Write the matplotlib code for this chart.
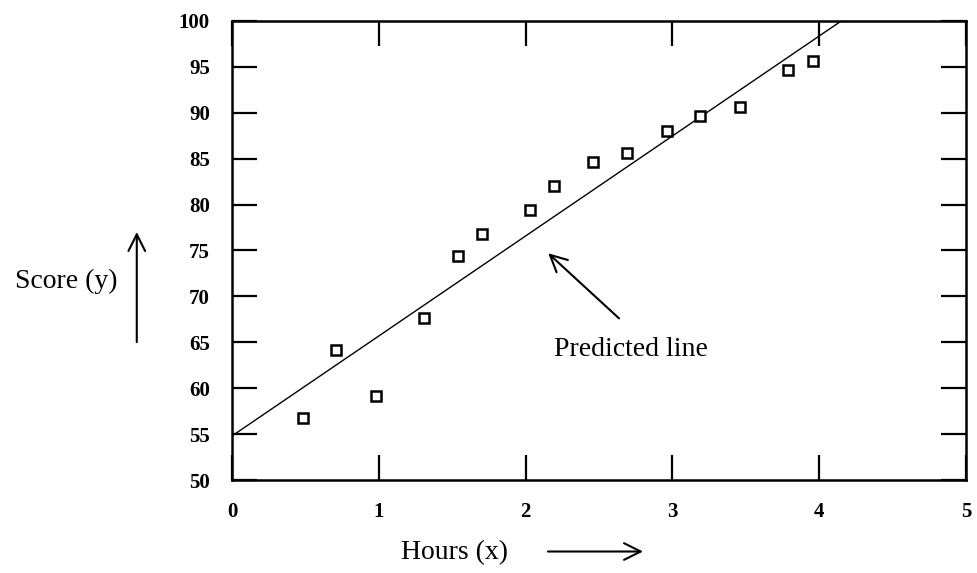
import matplotlib
matplotlib.use("Agg")
import matplotlib.pyplot as plt
from matplotlib.patches import FancyArrowPatch

# study hours vs. score
hours = [0.48, 0.71, 0.98, 1.31, 1.54, 1.70, 2.03, 2.19, 2.46, 2.69, 2.96, 3.19, 3.46, 3.79, 3.96]
scores = [56.7, 64.2, 59.2, 67.7, 74.4, 76.8, 79.4, 82.0, 84.6, 85.6, 88.0, 89.7, 90.6, 94.7, 95.6]

# fitted line end points
pred_x = [0.0, 4.15]
pred_y = [54.8, 100.0]

x_ticks = [0, 1, 2, 3, 4, 5]
y_ticks = [50, 55, 60, 65, 70, 75, 80, 85, 90, 95, 100]

plt.rcParams['font.family'] = ['Liberation Serif', 'DejaVu Serif']

fig = plt.figure(figsize=(9.77, 5.73), dpi=100)
ax = fig.add_axes([0.2375, 0.1623, 0.7513, 0.8011])

ax.plot(pred_x, pred_y, color='black', linewidth=1.0)
ax.plot(hours, scores, linestyle='none', marker='s', markersize=6.5,
        markerfacecolor='white', markeredgecolor='black', markeredgewidth=1.8)

ax.set_xlim(0, 5)
ax.set_ylim(50, 100)
ax.set_xticks(x_ticks)
ax.set_yticks(y_ticks)
ax.tick_params(axis='both', direction='in', length=18, width=1.6,
               top=True, right=True, labelsize=15)
ax.tick_params(axis='y', pad=16)
ax.tick_params(axis='x', pad=16)
for lab in ax.get_xticklabels() + ax.get_yticklabels():
    lab.set_fontweight('bold')
for sp in ax.spines.values():
    sp.set_linewidth(1.8)

# annotation for the fitted line
ax.annotate('', xy=(2.14, 74.9), xytext=(2.65, 67.4),
            arrowprops=dict(arrowstyle='->', color='black', lw=1.5,
                            mutation_scale=30))
ax.text(2.72, 65.6, 'Predicted line', fontsize=20, ha='center', va='top')

# axis titles with arrows
fig.text(0.068, 0.5096, 'Score (y)', fontsize=20, ha='center', va='center')
fig.add_artist(FancyArrowPatch(
    (0.140, 0.398), (0.140, 0.600), transform=fig.transFigure,
    arrowstyle='->', mutation_scale=30, lw=1.5, color='black'))
fig.text(0.465, 0.035, 'Hours (x)', fontsize=20, ha='center', va='center')
fig.add_artist(FancyArrowPatch(
    (0.558, 0.0375), (0.661, 0.0375), transform=fig.transFigure,
    arrowstyle='->', mutation_scale=30, lw=1.5, color='black'))

fig.savefig('out.png', dpi=100)
